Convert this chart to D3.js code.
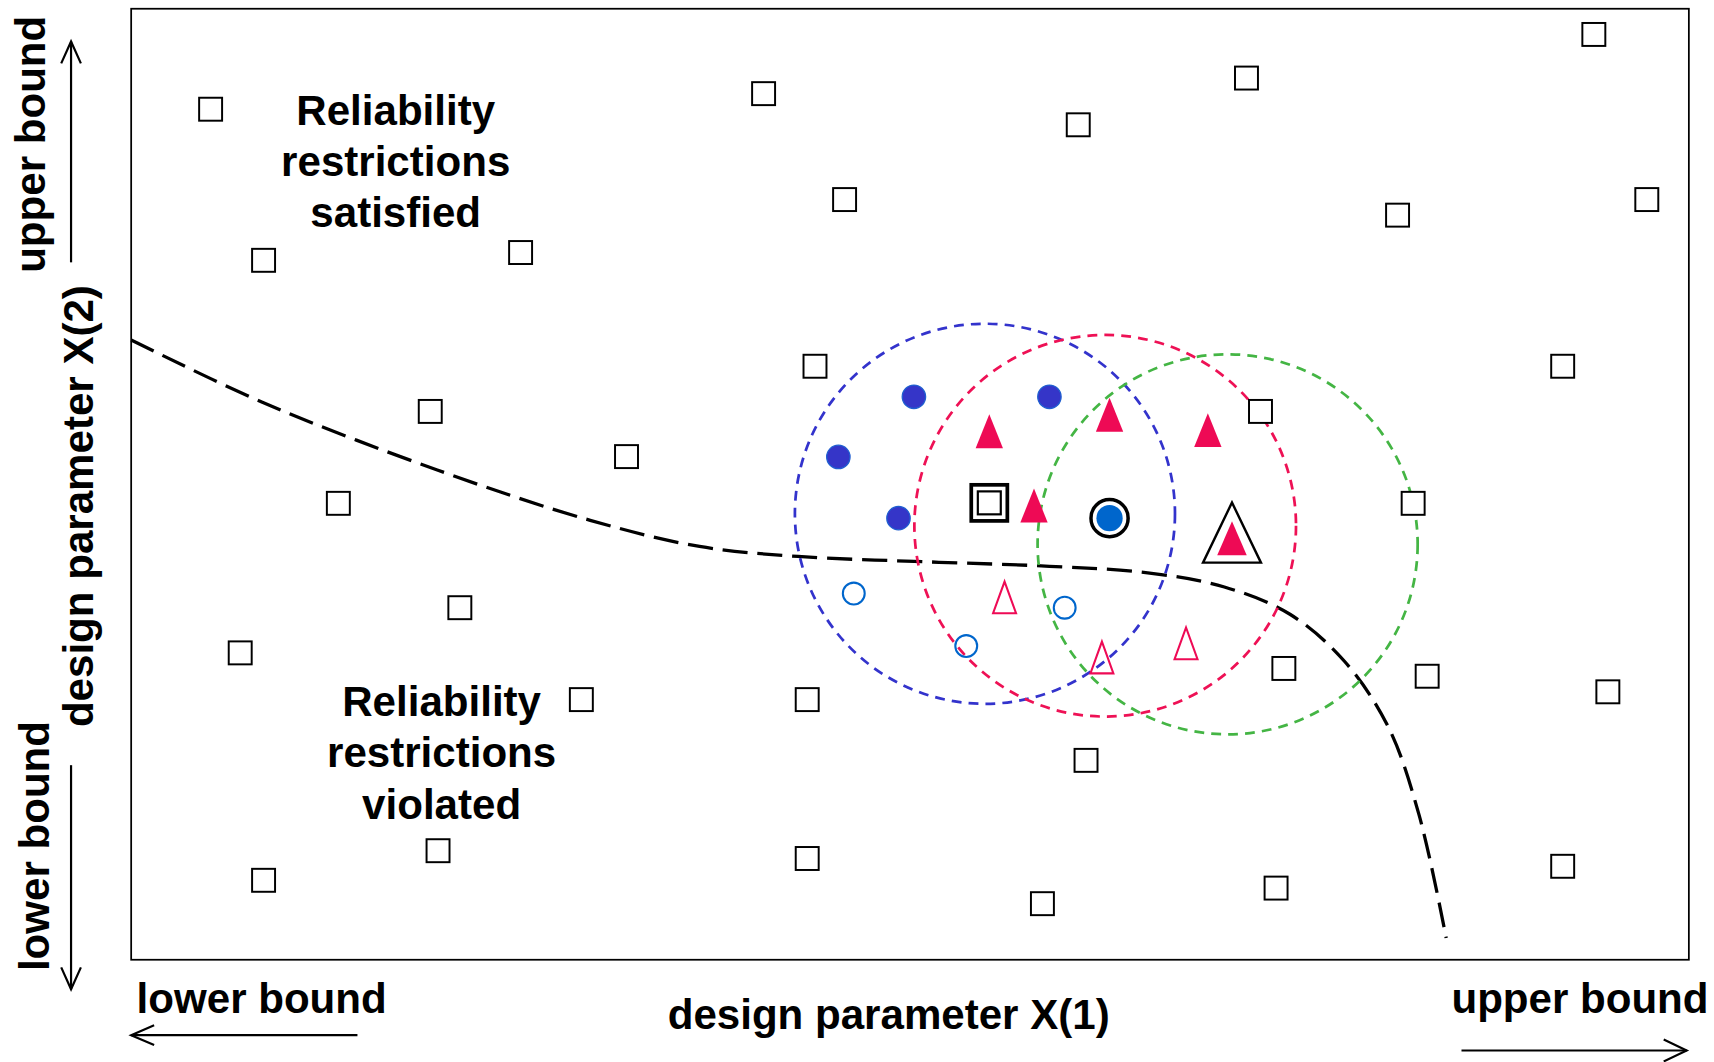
<!DOCTYPE html>
<html><head><meta charset="utf-8">
<script src="https://cdn.jsdelivr.net/npm/d3@7"></script>
<style>
html,body{margin:0;padding:0;background:#fff;}
svg{display:block;}
text{font-family:"Liberation Sans",Arial,sans-serif;font-weight:bold;fill:#000;}
</style></head>
<body>
<svg id="chart" width="1714" height="1062"></svg>
<script>
// ---- data (design space, normalized units) ----
const samplePoints = [ // plain sample squares [x1, x2]
  [5.1,54.6],[8.5,44.9],[25.0,45.4],[40.6,55.6],[45.8,48.8],[60.8,53.6],[71.6,56.6],
  [93.9,59.4],[97.3,48.8],[81.3,47.8],[43.9,38.1],[19.2,35.2],[31.8,32.3],[13.3,29.3],
  [72.5,35.2],[91.9,38.1],[82.3,29.3],[21.1,22.6],[7.0,19.7],[28.9,16.7],[43.4,16.7],
  [74.0,18.7],[83.2,18.2],[94.8,17.2],[61.3,12.8],[19.7,7.0],[8.5,5.1],[43.4,6.5],
  [58.5,3.6],[73.5,4.6],[91.9,6.0]
];
const feasibleCircles = [[50.25,36.14],[58.95,36.14],[45.40,32.28],[49.26,28.35]];
const infeasibleCircles = [[46.39,23.51],[59.93,22.60],[53.61,20.14]];
const feasibleTriangles = [[55.09,33.82],[62.81,34.88],[69.12,33.89],[57.96,29.05]];
const infeasibleTriangles = [[56.07,23.16],[62.32,19.30],[67.72,20.21]];
const bestSquare = [55.09,29.33];
const bestCircle = [62.81,28.35];
const bestTriangle = [70.67,27.23];
const regions = [ // [cx, cy, radius, colour]
  {c:[54.81,28.63], r:12.2, color:"#3333cc"},
  {c:[62.53,27.86], r:12.25, color:"#ee1155"},
  {c:[70.39,26.67], r:12.2, color:"#44b544"}
];
const limitState = [
  [0,39.79],[8.42,35.79],[19.65,31.44],[29.47,28.21],[36.49,26.53],[42.81,25.89],
  [51.23,25.54],[58.95,25.26],[65.26,24.84],[70.18,23.93],[74.39,22.18],[77.89,19.16],
  [80.70,14.95],[82.67,9.33],[84.42,1.40]
];
const labelSatisfied = ["Reliability","restrictions","satisfied"];
const labelViolated = ["Reliability","restrictions","violated"];
const xLabel = "design parameter X(1)";
const yLabel = "design parameter X(2)";
const lowerLabel = "lower bound", upperLabel = "upper bound";

// ---- drawing ----
const K = 1714/1568;
const svg = d3.select("#chart");
const g = svg.append("g").attr("transform", `scale(${K})`);
const x = d3.scaleLinear().domain([0,100]).range([120,1545]);
const y = d3.scaleLinear().domain([0,61.05]).range([878,8]);
const red = "#ee0a55", blueDark = "#3535c8", blue = "#0066cc";
const FS = 38.5;

// frame
g.append("rect").attr("x", x(0)).attr("y", y(61.05)).attr("width", x(100)-x(0)).attr("height", y(0)-y(61.05))
 .attr("fill","none").attr("stroke","#000").attr("stroke-width",1.6);

// limit state curve
g.append("path").datum(limitState)
 .attr("d", d3.line().x(d=>x(d[0])).y(d=>y(d[1])).curve(d3.curveCatmullRom))
 .attr("fill","none").attr("stroke","#000").attr("stroke-width",3).attr("stroke-dasharray","23,9");

// dashed trust regions
g.selectAll("circle.reg").data(regions).enter().append("circle")
 .attr("cx",d=>x(d.c[0])).attr("cy",d=>y(d.c[1])).attr("r",d=>x(d.r)-x(0))
 .attr("fill","none").attr("stroke",d=>d.color).attr("stroke-width",2.5).attr("stroke-dasharray","9,6.5");

// squares
const SQ = 21;
g.selectAll("rect.s").data(samplePoints).enter().append("rect")
 .attr("x",d=>x(d[0])-SQ/2).attr("y",d=>y(d[1])-SQ/2).attr("width",SQ).attr("height",SQ)
 .attr("fill","#fff").attr("stroke","#000").attr("stroke-width",1.8);

// best square (double)
g.append("rect").attr("x",x(bestSquare[0])-16.5).attr("y",y(bestSquare[1])-16.5).attr("width",33).attr("height",33)
 .attr("fill","#fff").attr("stroke","#000").attr("stroke-width",3.4);
g.append("rect").attr("x",x(bestSquare[0])-10.5).attr("y",y(bestSquare[1])-10.5).attr("width",21).attr("height",21)
 .attr("fill","none").attr("stroke","#000").attr("stroke-width",2);

// circles
g.selectAll("circle.f").data(feasibleCircles).enter().append("circle")
 .attr("cx",d=>x(d[0])).attr("cy",d=>y(d[1])).attr("r",10.7)
 .attr("fill",blueDark).attr("stroke","#1f5fd0").attr("stroke-width",1.2);
g.selectAll("circle.i").data(infeasibleCircles).enter().append("circle")
 .attr("cx",d=>x(d[0])).attr("cy",d=>y(d[1])).attr("r",10)
 .attr("fill","none").attr("stroke",blue).attr("stroke-width",1.9);
g.append("circle").attr("cx",x(bestCircle[0])).attr("cy",y(bestCircle[1])).attr("r",17)
 .attr("fill","#fff").attr("stroke","#000").attr("stroke-width",3.2);
g.append("circle").attr("cx",x(bestCircle[0])).attr("cy",y(bestCircle[1])).attr("r",12)
 .attr("fill",blue);

// triangles
function tri(cx, cy, w, h){
  return `M${cx},${cy-h*0.55} L${cx+w/2},${cy+h*0.45} L${cx-w/2},${cy+h*0.45} Z`;
}
g.selectAll("path.ft").data(feasibleTriangles).enter().append("path")
 .attr("d",d=>tri(x(d[0]),y(d[1]),25,31)).attr("fill",red);
g.selectAll("path.it").data(infeasibleTriangles).enter().append("path")
 .attr("d",d=>tri(x(d[0]),y(d[1]),21,29)).attr("fill","none").attr("stroke",red).attr("stroke-width",1.9);
g.append("path").attr("d",tri(x(bestTriangle[0]),y(bestTriangle[1]),53,55))
 .attr("fill","#fff").attr("stroke","#000").attr("stroke-width",2.2);
g.append("path").attr("d",tri(x(bestTriangle[0]),y(bestTriangle[1])+4,27,31)).attr("fill",red);

// region labels
function block(lines, cx, y0){
  const t = g.append("text").attr("text-anchor","middle").attr("font-size",FS);
  lines.forEach((s,i)=>t.append("tspan").attr("x",cx).attr("y",y0+i*47).text(s));
}
block(labelSatisfied, 362, 114);
block(labelViolated, 404, 655);

// axis labels
g.append("text").attr("x",813).attr("y",941).attr("text-anchor","middle").attr("font-size",FS).text(xLabel);
g.append("text").attr("x",125).attr("y",927).attr("font-size",FS).text(lowerLabel);
g.append("text").attr("x",1563).attr("y",927).attr("text-anchor","end").attr("font-size",FS).text(upperLabel);
g.append("text").attr("transform","translate(85,463) rotate(-90)").attr("text-anchor","middle").attr("font-size",FS).text(yLabel);
g.append("text").attr("transform","translate(41,132) rotate(-90)").attr("text-anchor","middle").attr("font-size",FS).text(upperLabel);
g.append("text").attr("transform","translate(45,774) rotate(-90)").attr("text-anchor","middle").attr("font-size",FS).text(lowerLabel);

// arrows
const arrows = [
  {line:[[65,240],[65,38]], head:[[56,58],[65,38],[74,58]]},
  {line:[[65,700],[65,905]], head:[[56,885],[65,905],[74,885]]},
  {line:[[327,947],[120,947]], head:[[141,938],[120,947],[141,956]]},
  {line:[[1337,961],[1543,961]], head:[[1522,951],[1543,961],[1522,971]]}
];
const ln = d3.line();
arrows.forEach(a=>{
  g.append("path").attr("d",ln(a.line)).attr("stroke","#000").attr("stroke-width",2).attr("fill","none");
  g.append("path").attr("d",ln(a.head)).attr("stroke","#000").attr("stroke-width",2).attr("fill","none");
});
</script>
</body></html>
